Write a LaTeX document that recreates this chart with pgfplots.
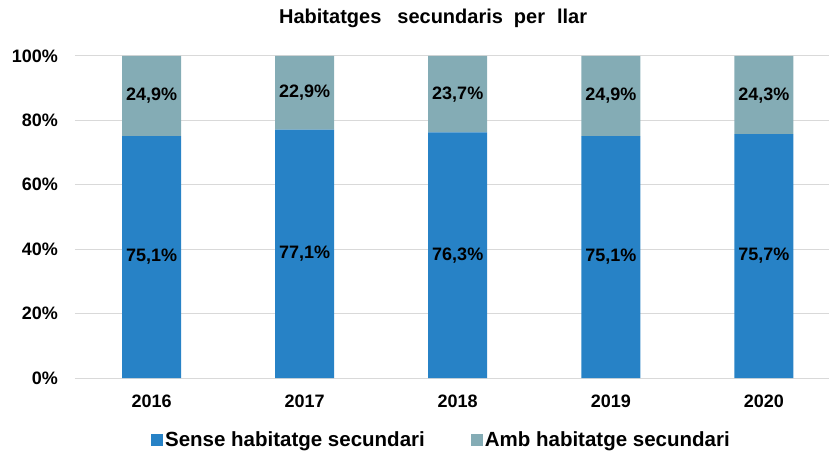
\documentclass[border=0pt]{standalone}
\usepackage{pgfplots}
\pgfplotsset{compat=1.18}
\usepackage{pgfplotstable}
\usepackage{fontspec}
\setmainfont{Liberation Sans}
\definecolor{cblue}{RGB}{39,130,198}
\definecolor{cteal}{RGB}{132,172,181}
\definecolor{cgrid}{RGB}{217,217,217}
\pgfplotstableread{
x sense amb lsense lamb
0 75.1 24.9 75,1 24,9
1 77.1 22.9 77,1 22,9
2 76.3 23.7 76,3 23,7
3 75.1 24.9 75,1 24,9
4 75.7 24.3 75,7 24,3
}\data
\begin{document}
\begin{tikzpicture}
\begin{axis}[name=ax, scale only axis, width=754bp, height=322bp,
  ybar stacked, bar width=59bp,
  xmin=-0.5, xmax=4.425, ymin=0, ymax=100,
  xtick={0,...,4}, xticklabels={2016,2017,2018,2019,2020},
  ytick={0,20,...,100}, yticklabels={0\%,20\%,40\%,60\%,80\%,100\%},
  major tick length=0pt,
  axis x line*=bottom, axis y line*=left,
  x axis line style={-, draw=cgrid, line width=1bp},
  y axis line style={draw=none},
  ymajorgrids, grid style={draw=cgrid, line width=1bp},
  /pgf/number format/assume math mode=true,
  tick label style={font=\bfseries\fontsize{18bp}{20bp}\selectfont, inner sep=0pt, black},
  xticklabel style={yshift=-17bp},
  yticklabel style={xshift=-17bp},
  title={Habitatges\hspace{16bp}secundaris\hspace{11bp}per\hspace{12bp}llar},
  title style={font=\bfseries\fontsize{20bp}{22bp}\selectfont, at={(axis description cs:0.475,1.097)}, anchor=center, inner sep=0pt},
  legend columns=2,
  legend cell align=left,
  legend style={draw=none, fill=none, at={(axis description cs:0.486,-0.1925)}, anchor=center,
    font=\bfseries\fontsize{20.5bp}{22bp}\selectfont,
    nodes={inner xsep=2bp},
    /tikz/every even column/.append style={column sep=44bp}},
  every node near coord/.append style={font=\bfseries\fontsize{18bp}{20bp}\selectfont, black},
]
\addplot[fill=cblue, draw=none,
  nodes near coords={\pgfplotspointmeta\%}, point meta=explicit symbolic,
  every node near coord/.append style={anchor=center},
  legend image code/.code={\fill[cblue] (0bp,-6bp) rectangle (12bp,6bp);}]
  table[x=x, y=sense, meta=lsense] {\data};
\addlegendentry{Sense habitatge secundari}
\addplot[fill=cteal, draw=none,
  nodes near coords={\pgfplotspointmeta\%}, point meta=explicit symbolic,
  every node near coord/.append style={anchor=center},
  legend image code/.code={\fill[cteal] (0bp,-6bp) rectangle (12bp,6bp);}]
  table[x=x, y=amb, meta=lamb] {\data};
\addlegendentry{Amb habitatge secundari}
\end{axis}
\pgfresetboundingbox
\path ([shift={(-75bp,-79bp)}]ax.south west) rectangle ([shift={(754bp,378bp)}]ax.south west);
\end{tikzpicture}
\end{document}
